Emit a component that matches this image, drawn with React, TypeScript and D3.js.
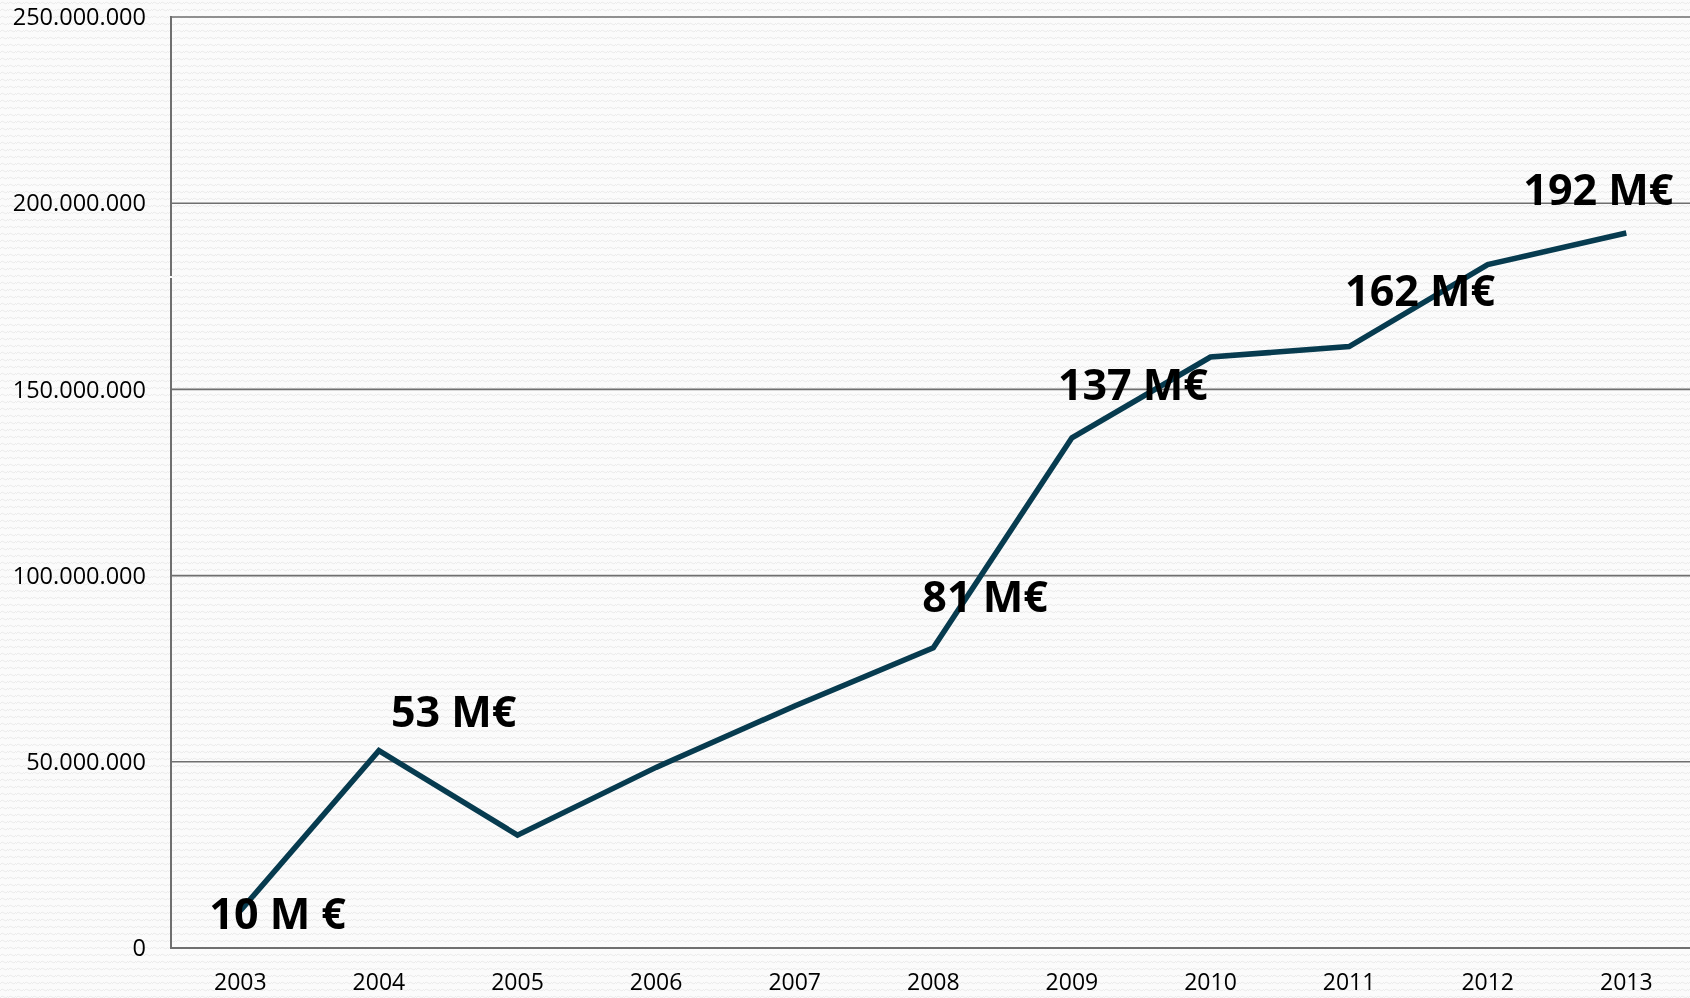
import React from "react";
import * as d3 from "d3";

const years = ["2003", "2004", "2005", "2006", "2007", "2008", "2009", "2010", "2011", "2012", "2013"];
const values = [10000000, 53000000, 30300000, 48500000, 65000000, 80600000, 137000000, 158700000, 161500000, 183500000, 192000000];
const yTicks = [0, 50000000, 100000000, 150000000, 200000000, 250000000];
const labelYears = ["2003", "2004", "2008", "2009", "2011", "2013"];
const labelTexts = ["10 M €", "53 M€", "81 M€", "137 M€", "162 M€", "192 M€"];
const labelOffsets: [number, number][] = [[-31, 18], [12, -24], [-11, -36], [-14, -38], [-4, -41], [-103, -28]];

const W = 1690, H = 998;
const left = 171, top = 17, bottom = 948;

export default function App() {
  const x = d3.scaleBand<string>().domain(years).range([left, left + 11 * 138.6]);
  const y = d3.scaleLinear().domain([0, 250000000]).range([bottom, top]);
  const fmt = (v: number) => d3.format(",")(v).replace(/,/g, ".");
  const line = d3.line<number>()
    .x((_, i) => x(years[i])! + x.bandwidth() / 2)
    .y((d) => y(d));
  return (
    <div style={{ position: "fixed", left: 0, top: 0, width: W, height: H }}>
      <svg width={W} height={H} style={{ display: "block" }}>
        <defs>
          <pattern id="wave" width="8" height="7" patternUnits="userSpaceOnUse">
            <rect width="8" height="7" fill="#fbfbfb" />
            <path d="M0 4 Q2 0.5 4 3 Q6 5.5 8 2" fill="none" stroke="#ebebeb" strokeWidth="1" />
          </pattern>
        </defs>
        <rect width={W} height={H} fill="url(#wave)" />
        {yTicks.map((t) => (
          <g key={t}>
            {t > 0 && <line x1={left} x2={W} y1={y(t)} y2={y(t)} stroke="#6f6f6f" strokeWidth={1.6} />}
            <text x={146} y={y(t)} dy="0.35em" textAnchor="end" fontFamily="'Open Sans', sans-serif" fontSize={23.5} fill="#000">
              {fmt(t)}
            </text>
          </g>
        ))}
        <line x1={left} x2={W} y1={bottom} y2={bottom} stroke="#6f6f6f" strokeWidth={2} />
        <line x1={left} x2={left} y1={top - 1} y2={276} stroke="#6f6f6f" strokeWidth={2} />
        <line x1={left} x2={left} y1={278} y2={bottom + 1} stroke="#6f6f6f" strokeWidth={2} />
        {years.map((yr) => (
          <text key={yr} x={x(yr)! + x.bandwidth() / 2} y={990} textAnchor="middle" fontFamily="'Open Sans', sans-serif" fontSize={23} fill="#000">
            {yr}
          </text>
        ))}
        <path d={line(values) || ""} fill="none" stroke="#073b4f" strokeWidth={5.5} strokeLinejoin="miter" />
        {labelYears.map((yr, i) => {
          const idx = years.indexOf(yr);
          const px = x(yr)! + x.bandwidth() / 2;
          const py = y(values[idx]);
          return (
            <text key={yr} x={px + labelOffsets[i][0]} y={py + labelOffsets[i][1]} fontFamily="'Open Sans', sans-serif" fontWeight={700} fontSize={43} fill="#000">
              {labelTexts[i]}
            </text>
          );
        })}
      </svg>
    </div>
  );
}
